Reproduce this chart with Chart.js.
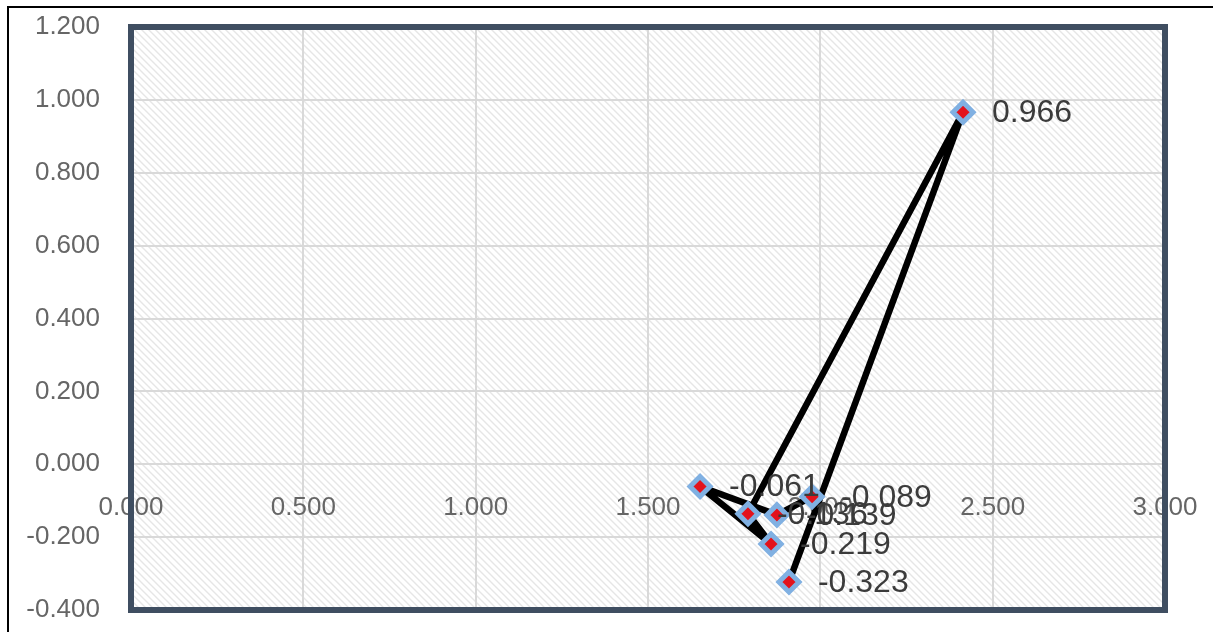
<!DOCTYPE html>
<html>
<head>
<meta charset="utf-8">
<script src="https://cdn.jsdelivr.net/npm/chart.js@4"></script>
<style>
  html, body { margin: 0; padding: 0; background: #fff; }
  #wrap { width: 1213px; height: 632px; }
</style>
</head>
<body>
<div id="wrap"><canvas id="chart" width="1213" height="632"></canvas></div>
<script>
// values, in the order the line visits them
var xValues = [1.976, 1.874, 1.651, 1.857, 1.790, 2.414, 1.909];
var yValues = [-0.089, -0.139, -0.061, -0.219, -0.136, 0.966, -0.323];
var pointLabels = ["-0.089", "-0.139", "-0.061", "-0.219", "-0.136", "0.966", "-0.323"];

var points = xValues.map(function (x, i) { return { x: x, y: yValues[i] }; });

function makeHatch() {
  var c = document.createElement('canvas');
  c.width = 7; c.height = 7;
  var g = c.getContext('2d');
  g.fillStyle = '#ffffff';
  g.fillRect(0, 0, 7, 7);
  g.strokeStyle = '#e6e6e6';
  g.lineWidth = 1.4;
  g.beginPath();
  g.moveTo(-1, -1); g.lineTo(8, 8);
  g.moveTo(-1, 6); g.lineTo(1, 8);
  g.moveTo(6, -1); g.lineTo(8, 1);
  g.stroke();
  return g.createPattern(c, 'repeat');
}

var frame = {
  id: 'frame',
  beforeDraw: function (chart) {
    var ctx = chart.ctx, a = chart.chartArea;
    ctx.save();
    ctx.fillStyle = makeHatch();
    ctx.fillRect(a.left, a.top, a.right - a.left, a.bottom - a.top);
    ctx.restore();
  },
  afterDraw: function (chart) {
    var ctx = chart.ctx, a = chart.chartArea;
    ctx.save();
    ctx.strokeStyle = '#3f4e61';
    ctx.lineWidth = 6;
    ctx.strokeRect(a.left, a.top, a.right - a.left, a.bottom - a.top);
    // outer black frame (top and left only are visible)
    ctx.strokeStyle = '#000';
    ctx.lineWidth = 2;
    ctx.beginPath();
    ctx.moveTo(8, 640); ctx.lineTo(8, 7); ctx.lineTo(1220, 7);
    ctx.stroke();
    ctx.restore();
  }
};

var labels = {
  id: 'labels',
  afterDatasetsDraw: function (chart) {
    var ctx = chart.ctx;
    var meta = chart.getDatasetMeta(0);
    ctx.save();
    ctx.font = '32px "Liberation Sans", Arial, sans-serif';
    ctx.fillStyle = '#3b3b3b';
    ctx.textAlign = 'left';
    ctx.textBaseline = 'middle';
    meta.data.forEach(function (pt, i) {
      ctx.fillText(pointLabels[i], pt.x + 29, pt.y + 1);
    });
    ctx.restore();
  }
};

var ctx = document.getElementById("chart").getContext('2d');
var chart = new Chart(ctx, {
  type: 'scatter',
  data: {
    datasets: [{
      data: points,
      showLine: true,
      borderColor: '#000000',
      borderWidth: 6.5,
      borderJoinStyle: 'round',
      borderCapStyle: 'round',
      pointStyle: 'rectRot',
      pointRadius: 10,
      pointHoverRadius: 10,
      pointBackgroundColor: '#e3121c',
      pointBorderColor: '#80b0e2',
      pointBorderWidth: 5
    }]
  },
  options: {
    responsive: false,
    animation: false,
    events: [],
    layout: { padding: { left: 0, top: 27, right: 48, bottom: 22 } },
    plugins: { legend: { display: false }, tooltip: { enabled: false } },
    scales: {
      x: {
        type: 'linear',
        position: { y: 0 },
        min: 0, max: 3,
        afterFit: function (s) { s.height = 0; s.paddingLeft = 0; s.paddingRight = 0; s.paddingTop = 0; s.paddingBottom = 0; },
        ticks: {
          stepSize: 0.5,
          padding: 28,
          color: '#666666',
          font: { family: '"Liberation Sans", Arial, sans-serif', size: 26 },
          callback: function (v) { return v.toFixed(3); }
        },
        grid: { color: '#d9d9d9', lineWidth: 2, drawTicks: false },
        border: { display: false }
      },
      y: {
        type: 'linear',
        min: -0.4, max: 1.2,
        afterFit: function (s) { s.width = 131; s.paddingTop = 0; s.paddingBottom = 0; s.paddingLeft = 0; s.paddingRight = 0; },
        ticks: {
          stepSize: 0.2,
          padding: 31,
          color: '#666666',
          font: { family: '"Liberation Sans", Arial, sans-serif', size: 26 },
          callback: function (v) { return v.toFixed(3); }
        },
        grid: { color: '#d9d9d9', lineWidth: 2, drawTicks: false },
        border: { display: false }
      }
    }
  },
  plugins: [frame, labels]
});
</script>
</body>
</html>
